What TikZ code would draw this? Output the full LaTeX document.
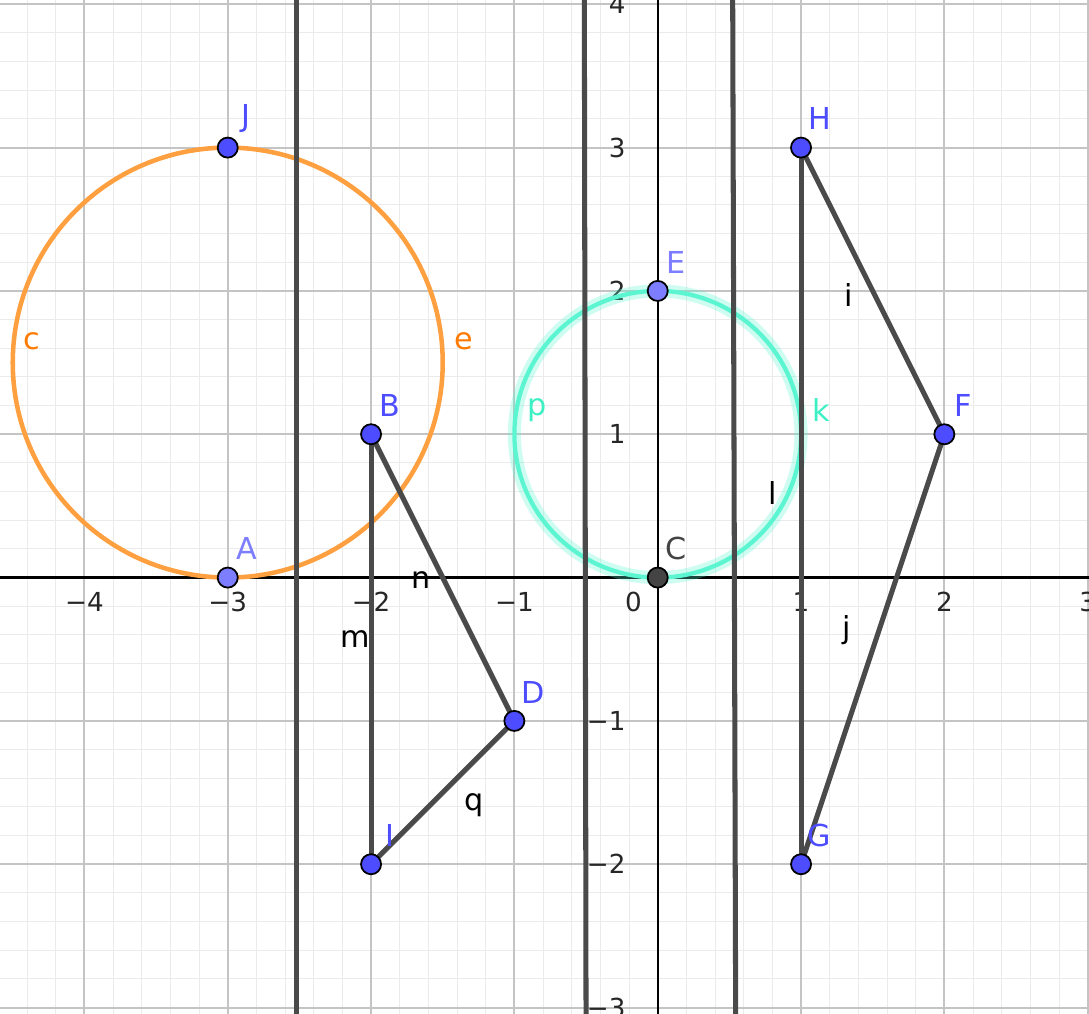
\documentclass[tikz,border=0pt]{standalone}
\usepackage{fontspec}
\setmainfont{DejaVu Sans}
\usepackage{tikz}
\usetikzlibrary{calc}
\definecolor{ptblue}{HTML}{4D4DFF}
\definecolor{ptpale}{HTML}{7D7DFF}
\definecolor{ptgray}{HTML}{444444}
\definecolor{segcol}{HTML}{4A4A4A}
\definecolor{orng}{HTML}{FFA040}
\definecolor{orngtxt}{HTML}{FF7A00}
\definecolor{teal}{HTML}{5CF5D2}
\definecolor{tealtxt}{HTML}{3DF0C4}
\definecolor{minorgrid}{HTML}{EBEBEB}
\definecolor{majorgrid}{HTML}{C4C4C4}
\newcommand{\gpoint}[2]{%
  \node[gpt, fill=#2] (#1pt) at (#1) {};
  \node[ptlbl, text=#2] at ($(#1)+(0.13,0.2)$) {#1};}

\begin{document}
\begin{tikzpicture}[x=1cm, y=1cm,
    gpt/.style={circle, draw=black, line width=0.35pt, inner sep=0pt, minimum size=0.14cm},
    ptlbl/.style={font=\fontsize{6}{7}\selectfont},
    seg/.style={segcol, line width=1pt},
    seglbl/.style={font=\fontsize{6}{7}\selectfont, text=black},
    ticklbl/.style={font=\fontsize{5.2}{6}\selectfont, text=black!85}]
  \useasboundingbox (-4.589,-3.044) rectangle (3.009,4.030);
  \clip (-4.589,-3.044) rectangle (3.009,4.030);

  % ---------- grid and axes ----------
  \draw[minorgrid, line width=0.2pt] (-4.6,-3.2) grid[step=0.2] (3.2,4.2);
  \draw[majorgrid, line width=0.4pt] (-5,-4) grid[step=1] (4,5);
  \draw[black, line width=0.45pt] (-4.6,0) -- (3.1,0);
  \draw[black, line width=0.45pt] (0,-3.1) -- (0,4.1);
  \foreach \x/\t in {-4/−4,-3/−3,-2/−2,-1/−1,1/1,2/2,3/3}
    \node[ticklbl] at (\x,-0.17) {\t};
  \node[ticklbl] at (-0.17,-0.17) {0};
  \foreach \y/\t in {4/4,3/3,2/2,1/1,-1/−1,-2/−2,-3/−3}
    \node[ticklbl, anchor=east] at (-0.1,\y) {\t};

  % ---------- points ----------
  \coordinate (A) at (-3,0);
  \coordinate (B) at (-2,1);
  \coordinate (C) at (0,0);
  \coordinate (D) at (-1,-1);
  \coordinate (E) at (0,2);
  \coordinate (F) at (2,1);
  \coordinate (G) at (1,-2);
  \coordinate (H) at (1,3);
  \coordinate (I) at (-2,-2);
  \coordinate (J) at (-3,3);

  % ---------- circles ----------
  \draw[orng, line width=0.9pt] (-3,1.5) circle (1.5);
  \node[seglbl, text=orngtxt] at (-4.37,1.65) {c};
  \node[seglbl, text=orngtxt] at (-1.35,1.65) {e};
  \draw[teal, opacity=0.3, line width=2.6pt] (0,1) circle (1);
  \draw[teal, line width=0.85pt] (0,1) circle (1);
  \node[seglbl, text=tealtxt] at (-0.84,1.17) {p};
  \node[seglbl, text=tealtxt] at (1.14,1.17) {k};

  % ---------- vertical lines ----------
  \draw[seg] (-2.520,-3.1) -- (-2.520,4.1);
  \draw[seg] (-0.500,-3.1) -- (-0.512,4.1);
  \draw[seg] (0.544,-3.1) -- (0.523,4.1);

  % ---------- segments ----------
  \draw[seg] (B) -- (I);
  \draw[seg] (B) -- (D);
  \draw[seg] (D) -- (I);
  \draw[seg] (H) -- (G);
  \draw[seg] (H) -- (F);
  \draw[seg] (F) -- (G);
  \node[seglbl] at (-2.11,-0.43) {m};
  \node[seglbl] at (-1.65,-0.02) {n};
  \node[seglbl] at (-1.28,-1.59) {q};
  \node[seglbl] at (0.80,0.59) {l};
  \node[seglbl] at (1.33,1.97) {i};
  \node[seglbl] at (1.32,-0.37) {j};

  % ---------- point markers ----------
  \gpoint{J}{ptblue}
  \gpoint{A}{ptpale}
  \gpoint{B}{ptblue}
  \gpoint{D}{ptblue}
  \gpoint{I}{ptblue}
  \gpoint{E}{ptpale}
  \gpoint{C}{ptgray}
  \gpoint{H}{ptblue}
  \gpoint{F}{ptblue}
  \gpoint{G}{ptblue}
\end{tikzpicture}
\end{document}
